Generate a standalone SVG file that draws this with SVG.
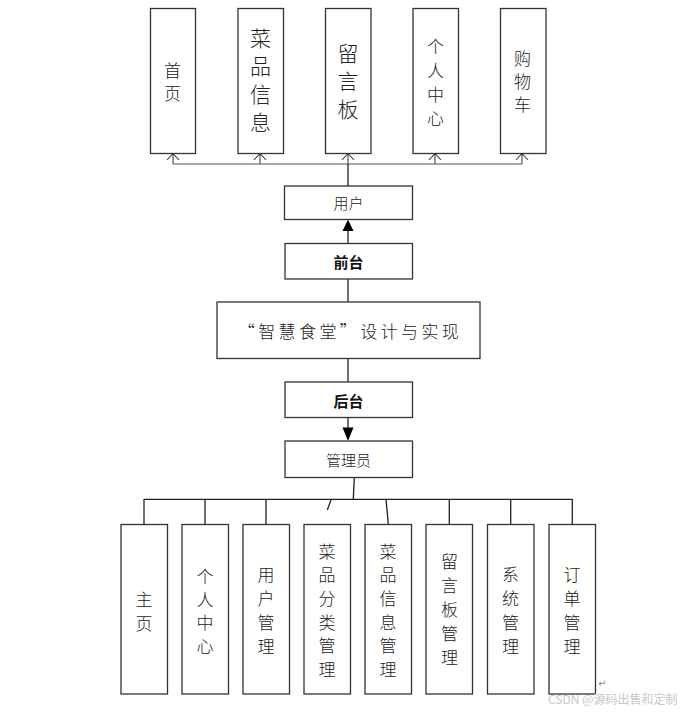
<svg xmlns="http://www.w3.org/2000/svg" width="690" height="713" viewBox="0 0 690 713">
<defs>
<style>
.box{fill:#fff;stroke:#333;stroke-width:1.3}
.ln{fill:none;stroke:#222;stroke-width:1.3}
.gl{fill:none;stroke:#555;stroke-width:1.2}
.t{font-family:"Noto Sans CJK SC","Liberation Sans",sans-serif;fill:#222;text-anchor:middle;dominant-baseline:central;font-weight:300}
.v18{font-size:17px}
.v22{font-size:21px}
.h15{font-size:15px}
.b15{font-size:15px;font-weight:700;fill:#111}
.wm{font-family:"Noto Sans CJK SC","Liberation Sans",sans-serif;font-size:12px;fill:#c8c8c8}
</style>
</defs>
<rect width="690" height="713" fill="#fff"/>

<g id="connectors">
<path class="gl" d="M173,164 H522"/>
<path class="gl" d="M173,164 V154"/>
<path class="gl" d="M260,164 V154"/>
<path class="gl" d="M348,164 V154"/>
<path class="gl" d="M435,164 V154"/>
<path class="gl" d="M522,164 V154"/>
<path d="M167,160 L173,153.5 L179,160 M254,160 L260,153.5 L266,160 M342,160 L348,153.5 L354,160 M429,160 L435,153.5 L441,160 M516,160 L522,153.5 L528,160" fill="none" stroke="#333" stroke-width="1.1"/>
<path class="ln" d="M348,186 V164"/>
<path class="ln" d="M348,243 V229"/>
<path d="M348,219.5 L342.5,231 L353.5,231 Z" fill="#000"/>
<path class="ln" d="M348,279 V302"/>
<path class="ln" d="M348,358 V382"/>
<path class="ln" d="M348,417 V429"/>
<path d="M348,441 L342.5,427.5 L353.5,427.5 Z" fill="#000"/>
<path class="ln" d="M354.3,477 L353.3,499"/>
<path class="ln" d="M144,499.3 H572.3"/>
<path class="ln" d="M144,499 V524"/>
<path class="ln" d="M205,499 V524"/>
<path class="ln" d="M266,499 V524"/>
<path class="ln" d="M331,500 L327.3,510"/>
<path class="ln" d="M386,499 L388.3,524"/>
<path class="ln" d="M449.3,499 V524"/>
<path class="ln" d="M510.7,499 V524"/>
<path class="ln" d="M572.3,499 V524"/>
</g>

<g id="n-shouye">
<rect class="box" x="150.5" y="8.5" width="45" height="145"/>
<text class="t v18" x="172.5" y="69">首</text>
<text class="t v18" x="172.5" y="92">页</text>
</g>
<g id="n-caipinxinxi">
<rect class="box" x="238" y="8.5" width="45.5" height="145"/>
<text class="t v22" x="260.5" y="37">菜</text>
<text class="t v22" x="260.5" y="65">品</text>
<text class="t v22" x="260.5" y="93">信</text>
<text class="t v22" x="260.5" y="121">息</text>
</g>
<g id="n-liuyanban">
<rect class="box" x="325.5" y="8.5" width="45.5" height="145"/>
<text class="t v22" x="348" y="52">留</text>
<text class="t v22" x="348" y="80">言</text>
<text class="t v22" x="348" y="108">板</text>
</g>
<g id="n-gerenzhongxin">
<rect class="box" x="413" y="8.5" width="45.5" height="145"/>
<text class="t v18" x="435.5" y="45">个</text>
<text class="t v18" x="435.5" y="69">人</text>
<text class="t v18" x="435.5" y="93">中</text>
<text class="t v18" x="435.5" y="117">心</text>
</g>
<g id="n-gouwuche">
<rect class="box" x="500.5" y="8.5" width="45.5" height="145"/>
<text class="t v18" x="522.5" y="57">购</text>
<text class="t v18" x="522.5" y="80">物</text>
<text class="t v18" x="522.5" y="103">车</text>
</g>

<g id="n-yonghu">
<rect class="box" x="284.5" y="186" width="128" height="33.5"/>
<text class="t h15" x="348.5" y="202">用户</text>
</g>
<g id="n-qiantai">
<rect class="box" x="285" y="243.5" width="127.5" height="35.5"/>
<text class="t b15" x="348.5" y="261.5">前台</text>
</g>
<g id="n-main">
<rect class="box" x="217" y="302" width="263" height="56.5"/>
<text class="t" x="350" y="330" style="font-size:17px;letter-spacing:3.4px">“智慧食堂”设计与实现</text>
</g>
<g id="n-houtai">
<rect class="box" x="285" y="382" width="127.5" height="35.5"/>
<text class="t b15" x="348.5" y="400">后台</text>
</g>
<g id="n-guanliyuan">
<rect class="box" x="285" y="441" width="127.5" height="36.5"/>
<text class="t h15" x="348.5" y="459.5">管理员</text>
</g>

<g id="n-zhuye">
<rect class="box" x="121" y="524.5" width="46.5" height="169.5"/>
<text class="t v18" x="144" y="598">主</text>
<text class="t v18" x="144" y="622">页</text>
</g>
<g id="n-grzx">
<rect class="box" x="182" y="524.5" width="46.5" height="169.5"/>
<text class="t v18" x="205" y="575">个</text>
<text class="t v18" x="205" y="598">人</text>
<text class="t v18" x="205" y="621">中</text>
<text class="t v18" x="205" y="645">心</text>
</g>
<g id="n-yhgl">
<rect class="box" x="243" y="524.5" width="46.5" height="169.5"/>
<text class="t v18" x="266" y="573">用</text>
<text class="t v18" x="266" y="597">户</text>
<text class="t v18" x="266" y="621">管</text>
<text class="t v18" x="266" y="645">理</text>
</g>
<g id="n-cpflgl">
<rect class="box" x="304" y="524.5" width="46.5" height="169.5"/>
<text class="t v18" x="327" y="550">菜</text>
<text class="t v18" x="327" y="573">品</text>
<text class="t v18" x="327" y="597">分</text>
<text class="t v18" x="327" y="621">类</text>
<text class="t v18" x="327" y="644">管</text>
<text class="t v18" x="327" y="668">理</text>
</g>
<g id="n-cpxxgl">
<rect class="box" x="365" y="524.5" width="46.5" height="169.5"/>
<text class="t v18" x="388" y="550">菜</text>
<text class="t v18" x="388" y="573">品</text>
<text class="t v18" x="388" y="597">信</text>
<text class="t v18" x="388" y="621">息</text>
<text class="t v18" x="388" y="644">管</text>
<text class="t v18" x="388" y="668">理</text>
</g>
<g id="n-lybgl">
<rect class="box" x="426" y="524.5" width="46.5" height="169.5"/>
<text class="t v18" x="449.5" y="560">留</text>
<text class="t v18" x="449.5" y="584">言</text>
<text class="t v18" x="449.5" y="608">板</text>
<text class="t v18" x="449.5" y="632">管</text>
<text class="t v18" x="449.5" y="656">理</text>
</g>
<g id="n-xtgl">
<rect class="box" x="487.5" y="524.5" width="46.5" height="169.5"/>
<text class="t v18" x="510.5" y="573">系</text>
<text class="t v18" x="510.5" y="597">统</text>
<text class="t v18" x="510.5" y="621">管</text>
<text class="t v18" x="510.5" y="645">理</text>
</g>
<g id="n-ddgl">
<rect class="box" x="549" y="524.5" width="46.5" height="169.5"/>
<text class="t v18" x="572" y="573">订</text>
<text class="t v18" x="572" y="597">单</text>
<text class="t v18" x="572" y="621">管</text>
<text class="t v18" x="572" y="645">理</text>
</g>

<text x="598" y="687" style="font-family:'DejaVu Sans',sans-serif;font-size:10px;fill:#888">↵</text>
<text class="wm" x="548" y="704">CSDN @源码出售和定制</text>
</svg>
